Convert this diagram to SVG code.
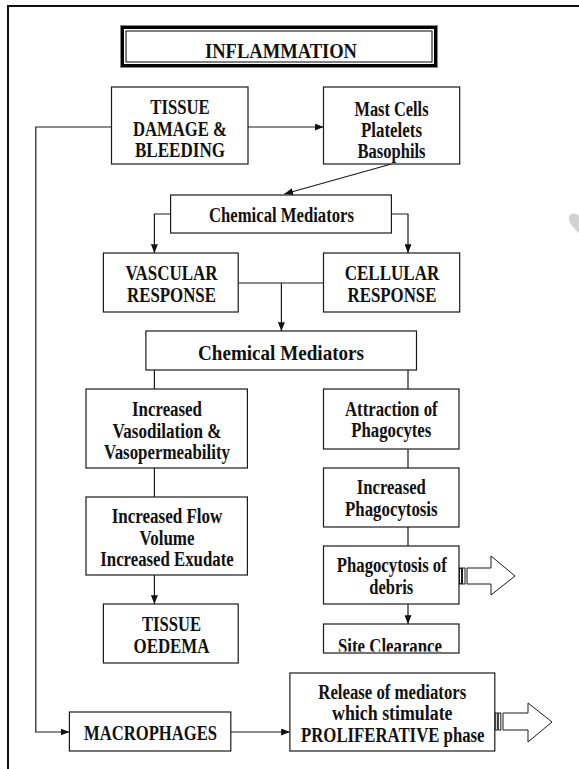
<svg xmlns="http://www.w3.org/2000/svg" width="579" height="769" viewBox="0 0 579 769">
<defs>
<style>
.box{fill:#fff;stroke:#1a1a1a;stroke-width:1.2}
.ln{fill:none;stroke:#1a1a1a;stroke-width:1.2}
.t{font-family:"Liberation Serif","Times New Roman",serif;font-weight:bold;font-size:20px;fill:#111;text-anchor:middle}
.ba{fill:#fff;stroke:#1a1a1a;stroke-width:1}
</style>
<marker id="ah" viewBox="0 0 10 8" refX="10" refY="4" markerWidth="9" markerHeight="7" markerUnits="userSpaceOnUse" orient="auto">
<path d="M0,0 L10,4 L0,8 Z" fill="#111"/>
</marker>
<clipPath id="clipSite"><rect x="323.5" y="624" width="135.5" height="27.5"/></clipPath>
</defs>
<rect width="579" height="769" fill="#fff"/>
<!-- frame -->
<path d="M7,6 H579 M8,6 V769" fill="none" stroke="#111" stroke-width="2"/>
<!-- watermark -->
<path d="M579,216 C575,212 569,213 569,219 C569,224 574,228 579,233 Z" fill="#d2d2d2"/>

<g id="title">
<rect x="120.5" y="25.5" width="317" height="42" fill="#fff" stroke="#888" stroke-width="1"/>
<rect x="122.5" y="27.5" width="313" height="38" fill="none" stroke="#000" stroke-width="3"/>
<rect x="126" y="31" width="306" height="31" fill="none" stroke="#000" stroke-width="1"/>
<text class="t" x="281" y="57.5" font-size="19.5" textLength="152" lengthAdjust="spacingAndGlyphs">INFLAMMATION</text>
</g>

<g id="connectors">
<path class="ln" d="M248,127 H323.5" marker-end="url(#ah)"/>
<path class="ln" d="M111.5,127 H35.8 V732 H69.4" marker-end="url(#ah)"/>
<path class="ln" d="M391.4,164 L284.3,194" marker-end="url(#ah)"/>
<path class="ln" d="M170.6,214 H154.4 V253" marker-end="url(#ah)"/>
<path class="ln" d="M391.4,214 H408 V253" marker-end="url(#ah)"/>
<path class="ln" d="M238.2,283 H323.5"/>
<path class="ln" d="M281.4,283 V331" marker-end="url(#ah)"/>
<path class="ln" d="M154.4,370 V389 M408,370 V389"/>
<path class="ln" d="M154.4,468 V497"/>
<path class="ln" d="M408,449 V468 M408,527 V546"/>
<path class="ln" d="M154.4,575 V604" marker-end="url(#ah)"/>
<path class="ln" d="M408,604 V624" marker-end="url(#ah)"/>
<path class="ln" d="M230.8,732 H289.9" marker-end="url(#ah)"/>
</g>

<g id="tissue-damage">
<rect class="box" x="111.5" y="87" width="136.5" height="77"/>
<text class="t" x="180" y="114" textLength="59.5" lengthAdjust="spacingAndGlyphs">TISSUE</text>
<text class="t" x="180" y="136" textLength="94" lengthAdjust="spacingAndGlyphs">DAMAGE &amp;</text>
<text class="t" x="180" y="157" textLength="90" lengthAdjust="spacingAndGlyphs">BLEEDING</text>
</g>

<g id="mast-cells">
<rect class="box" x="323.5" y="87" width="136.2" height="77"/>
<text class="t" x="391.5" y="116" textLength="74" lengthAdjust="spacingAndGlyphs">Mast Cells</text>
<text class="t" x="391.5" y="137" textLength="61" lengthAdjust="spacingAndGlyphs">Platelets</text>
<text class="t" x="391.5" y="158" textLength="68" lengthAdjust="spacingAndGlyphs">Basophils</text>
</g>

<g id="chem-med-1">
<rect class="box" x="170.6" y="195" width="220.8" height="38"/>
<text class="t" x="281.5" y="222" textLength="145" lengthAdjust="spacingAndGlyphs">Chemical Mediators</text>
</g>

<g id="vascular">
<rect class="box" x="103.4" y="253" width="134.8" height="59"/>
<text class="t" x="171.5" y="280" textLength="92" lengthAdjust="spacingAndGlyphs">VASCULAR</text>
<text class="t" x="171.5" y="302" textLength="89" lengthAdjust="spacingAndGlyphs">RESPONSE</text>
</g>

<g id="cellular">
<rect class="box" x="323.5" y="253" width="136.2" height="59"/>
<text class="t" x="392" y="280" textLength="94.5" lengthAdjust="spacingAndGlyphs">CELLULAR</text>
<text class="t" x="392" y="302" textLength="89" lengthAdjust="spacingAndGlyphs">RESPONSE</text>
</g>

<g id="chem-med-2">
<rect class="box" x="145.9" y="331" width="270.6" height="39"/>
<text class="t" x="281" y="360" font-size="22.5" textLength="166" lengthAdjust="spacingAndGlyphs">Chemical Mediators</text>
</g>

<g id="vasodilation">
<rect class="box" x="86" y="389" width="161.4" height="79"/>
<text class="t" x="167" y="416" textLength="70" lengthAdjust="spacingAndGlyphs">Increased</text>
<text class="t" x="167" y="438" textLength="109" lengthAdjust="spacingAndGlyphs">Vasodilation &amp;</text>
<text class="t" x="167" y="459" textLength="126" lengthAdjust="spacingAndGlyphs">Vasopermeability</text>
</g>

<g id="attraction">
<rect class="box" x="323.5" y="389" width="135.5" height="60"/>
<text class="t" x="391.3" y="416" textLength="92.6" lengthAdjust="spacingAndGlyphs">Attraction of</text>
<text class="t" x="391.3" y="437" textLength="80" lengthAdjust="spacingAndGlyphs">Phagocytes</text>
</g>

<g id="increased-phagocytosis">
<rect class="box" x="323.5" y="468" width="135.5" height="59"/>
<text class="t" x="391.3" y="494" textLength="69" lengthAdjust="spacingAndGlyphs">Increased</text>
<text class="t" x="391.3" y="516" textLength="92.6" lengthAdjust="spacingAndGlyphs">Phagocytosis</text>
</g>

<g id="flow-volume">
<rect class="box" x="86" y="497" width="161.4" height="78"/>
<text class="t" x="167" y="523" textLength="110.7" lengthAdjust="spacingAndGlyphs">Increased Flow</text>
<text class="t" x="167" y="544.5" textLength="55" lengthAdjust="spacingAndGlyphs">Volume</text>
<text class="t" x="167" y="566" textLength="133.4" lengthAdjust="spacingAndGlyphs">Increased Exudate</text>
</g>

<g id="phagocytosis-debris">
<rect class="box" x="323.5" y="546" width="135.5" height="58"/>
<text class="t" x="391.8" y="572" textLength="110" lengthAdjust="spacingAndGlyphs">Phagocytosis of</text>
<text class="t" x="391.3" y="593.5" textLength="44" lengthAdjust="spacingAndGlyphs">debris</text>
</g>

<g id="block-arrow-1">
<rect class="ba" x="459.5" y="568" width="2" height="16"/>
<rect class="ba" x="462.5" y="568" width="2.5" height="16"/>
<path class="ba" d="M467,568 H491 V556 L515,576 L491,595 V584 H467 Z"/>
</g>

<g id="tissue-oedema">
<rect class="box" x="103.4" y="604" width="134.8" height="59"/>
<text class="t" x="171.5" y="631" textLength="59" lengthAdjust="spacingAndGlyphs">TISSUE</text>
<text class="t" x="171.5" y="652.5" textLength="76" lengthAdjust="spacingAndGlyphs">OEDEMA</text>
</g>

<g id="site-clearance">
<rect class="box" x="323.5" y="624" width="135.5" height="29"/>
<text class="t" x="390" y="653" clip-path="url(#clipSite)" textLength="104" lengthAdjust="spacingAndGlyphs">Site Clearance</text>
</g>

<g id="macrophages">
<rect class="box" x="69.4" y="712" width="161.4" height="39"/>
<text class="t" x="150.5" y="739.5" textLength="133" lengthAdjust="spacingAndGlyphs">MACROPHAGES</text>
</g>

<g id="release-mediators">
<rect class="box" x="289.9" y="673" width="204.9" height="78"/>
<text class="t" x="392.3" y="698.5" textLength="148" lengthAdjust="spacingAndGlyphs">Release of mediators</text>
<text class="t" x="392.3" y="719.5" textLength="120.5" lengthAdjust="spacingAndGlyphs">which stimulate</text>
<text class="t" x="392.8" y="741.5" textLength="183.5" lengthAdjust="spacingAndGlyphs">PROLIFERATIVE phase</text>
</g>

<g id="block-arrow-2">
<rect class="ba" x="495.3" y="713" width="2" height="17"/>
<rect class="ba" x="498.3" y="713" width="2.5" height="17"/>
<path class="ba" d="M503,713 H528 V703 L552,722 L528,742 V730 H503 Z"/>
</g>
</svg>
